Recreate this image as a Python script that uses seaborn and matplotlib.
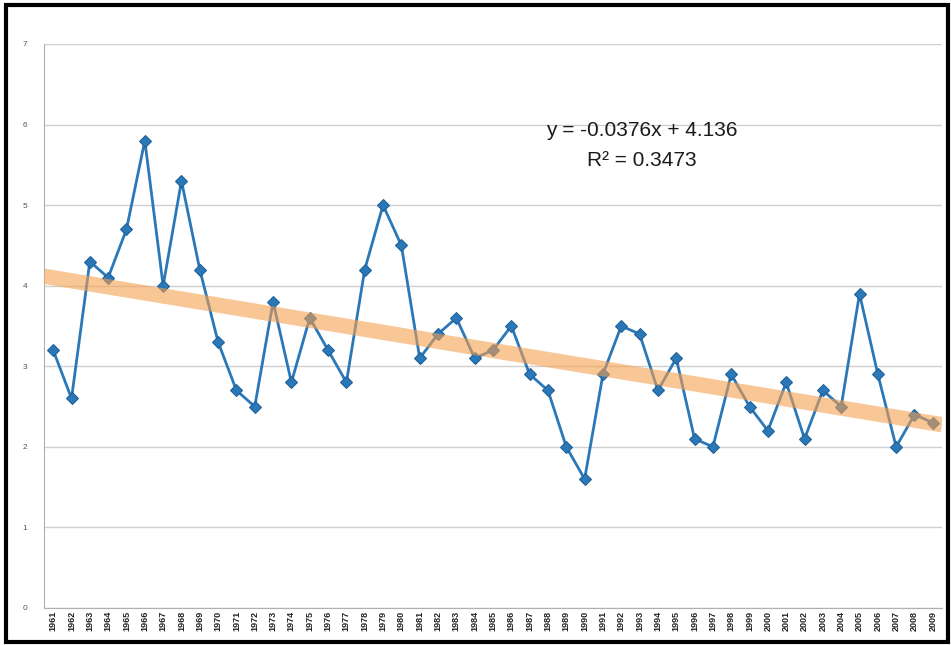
import numpy as np
import pandas as pd
import seaborn as sns
import matplotlib.pyplot as plt
from matplotlib.patches import Rectangle

# 年份与数值
years = list(range(1961, 2010))
values = [3.2, 2.6, 4.3, 4.1, 4.7, 5.8, 4.0, 5.3, 4.2, 3.3,
          2.7, 2.5, 3.8, 2.8, 3.6, 3.2, 2.8, 4.2, 5.0, 4.5,
          3.1, 3.4, 3.6, 3.1, 3.2, 3.5, 2.9, 2.7, 2.0, 1.6,
          2.9, 3.5, 3.4, 2.7, 3.1, 2.1, 2.0, 2.9, 2.5, 2.2,
          2.8, 2.1, 2.7, 2.5, 3.9, 2.9, 2.0, 2.4, 2.3]
y_ticks = [0, 1, 2, 3, 4, 5, 6, 7]
eq_text = "y = -0.0376x + 4.136\nR² = 0.3473"

df = pd.DataFrame({"idx": np.arange(1, len(years) + 1), "value": values})

sns.set_style("white")
plt.rcParams['font.family'] = ['Liberation Sans', 'DejaVu Sans']

fig = plt.figure(figsize=(9.51, 6.45), dpi=100)
# 外框
W, H = 951, 645
fig.patches.append(Rectangle((6 / W, 3 / H), 942 / W, 637 / H,
                             transform=fig.transFigure, fill=False,
                             edgecolor="black", lw=3))
ax = fig.add_axes([0.0463, 0.0574, 0.9442, 0.8744])

sns.lineplot(data=df, x="idx", y="value", ax=ax, color="#2a78b8", lw=2,
             marker="D", markersize=6, markeredgecolor="#1f5f96", zorder=2)
ax.set_xlim(0.5, len(years) + 0.5)
sns.regplot(data=df, x="idx", y="value", ax=ax, scatter=False, ci=None,
            truncate=False,
            line_kws=dict(color="#f5a050", lw=11, alpha=0.6,
                          solid_capstyle="butt", zorder=3))

ax.set_xlim(0.5, len(years) + 0.5)
ax.set_ylim(0, 7)
ax.set_yticks(y_ticks)
ax.set_yticklabels([str(t) for t in y_ticks], fontsize=6, color="#555555")
ax.set_xticks(df["idx"])
ax.set_xticklabels([str(y) for y in years], rotation=90, fontsize=6.5,
                   fontweight="bold", color="#222222")
ax.set_xlabel("")
ax.set_ylabel("")
ax.yaxis.grid(True, color="#d0d0d0", lw=1)
ax.set_axisbelow(True)
for s in ["top", "right"]:
    ax.spines[s].set_visible(False)
ax.spines["left"].set_color("#b0b0b0")
ax.spines["bottom"].set_color("#b0b0b0")
ax.tick_params(axis="y", length=4, color="#b0b0b0", pad=8)
ax.tick_params(axis="x", length=0, pad=2)

ax.text(0.666, 0.82, eq_text, transform=ax.transAxes, ha="center", va="center",
        fontsize=15, color="#1a1a1a", linespacing=1.7)

fig.savefig("out.png", dpi=100)
